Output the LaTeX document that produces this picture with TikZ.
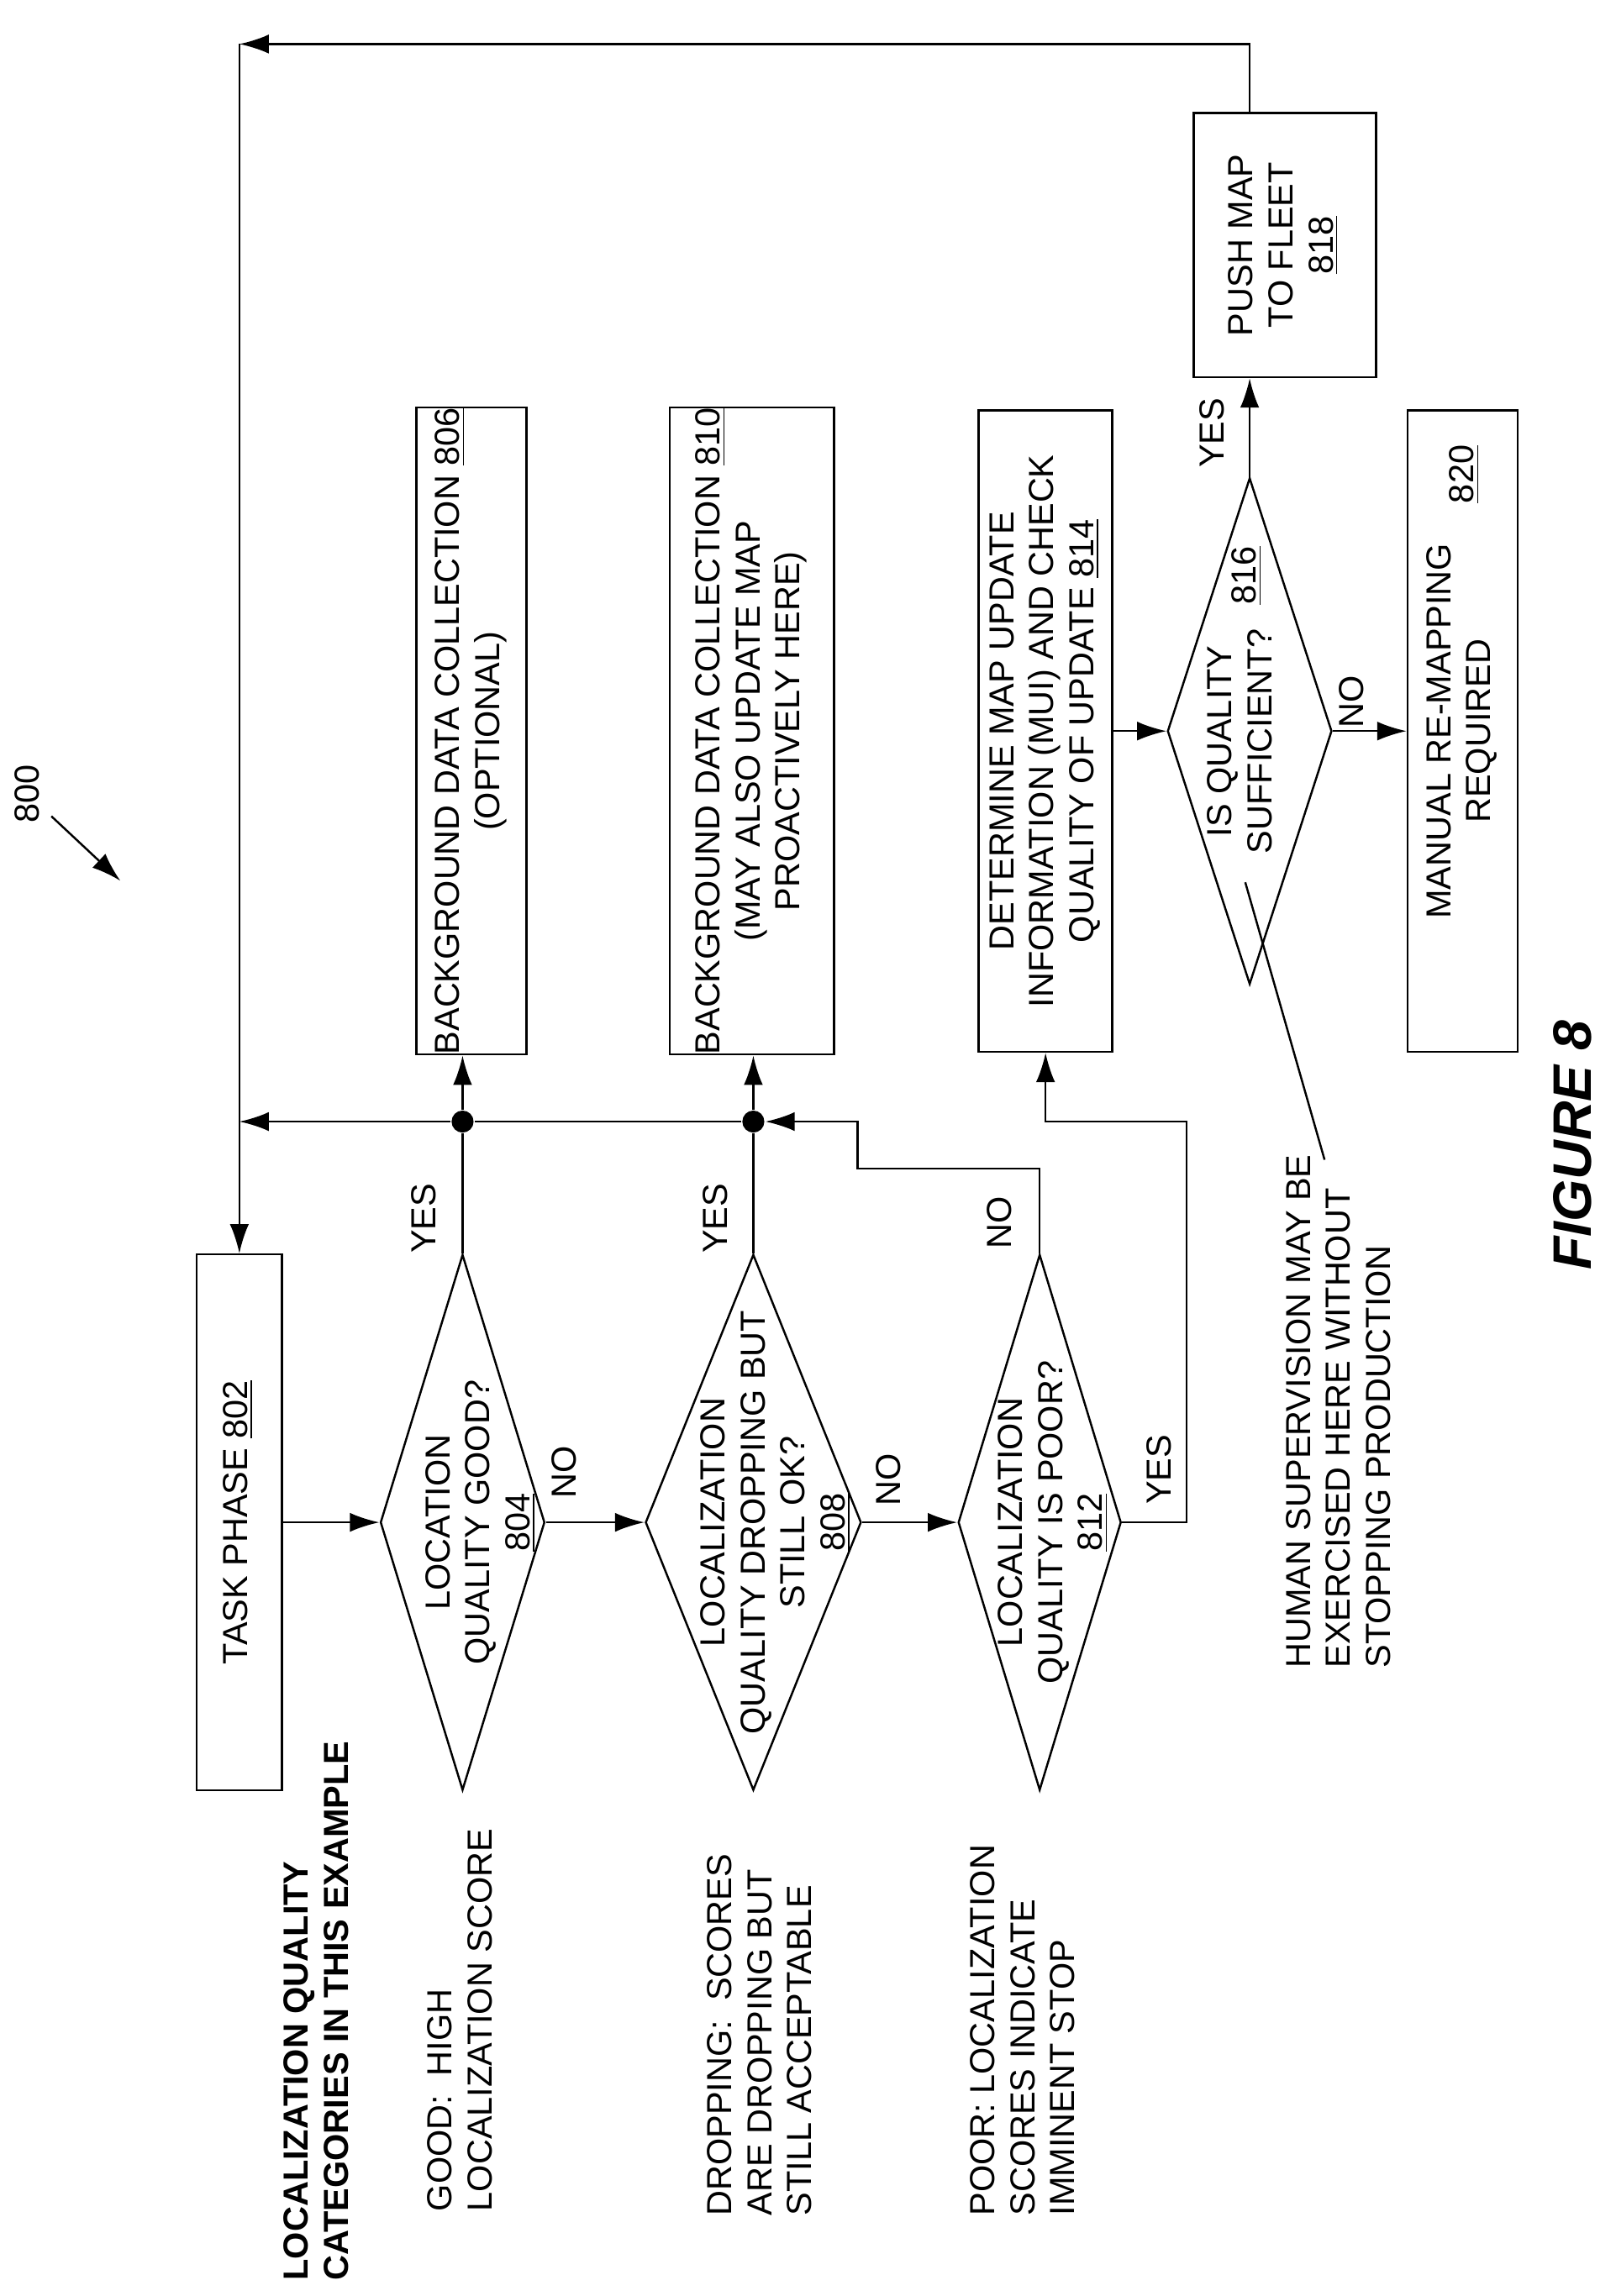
\documentclass[tikz,border=0pt]{standalone}
\usepackage{fontspec}
\setmainfont{Liberation Sans}
\usepackage{graphicx}
\usetikzlibrary{shapes.geometric, arrows.meta, positioning}

\newcommand{\rt}[2][c]{\rotatebox{90}{\begin{tabular}{@{}#1@{}}#2\end{tabular}}}

\begin{document}
\begin{tikzpicture}[x=0.02cm, y=-0.02cm, line width=0.8pt,
        font=\fontsize{13.5}{15.5}\selectfont]
        % Define block styles
        \tikzset{
            box/.style = {rectangle, draw, inner sep=0pt, align=center},
            decision/.style = {diamond, draw, inner sep=0pt},
            lbl/.style = {inner sep=0pt},
            dot/.style = {circle, fill, inner sep=0pt, minimum size=0.3cm},
            line/.style = {draw, -{Latex[length=4mm, width=2.6mm]}}
        }
        \useasboundingbox (0,0) rectangle (1100,1564);

        % Define nodes
        \node [box, minimum width=1.16cm, minimum height=7.3cm] (task) at (163,1037) {\rt{TASK PHASE \underline{802}}};
        \node [decision, minimum width=2.24cm, minimum height=7.3cm] (d804) at (315,1037) {};
        \node [decision, minimum width=2.94cm, minimum height=7.3cm] (d808) at (513,1037) {};
        \node [decision, minimum width=2.22cm, minimum height=7.3cm] (d812) at (708,1037) {};
        \node [lbl] (t804) at (328,1037) {\rt{LOCATION\\QUALITY GOOD?\\\underline{804}}};
        \node [lbl] (t808) at (529,1037) {\rt{LOCALIZATION\\QUALITY DROPPING BUT\\STILL OK?\\\underline{808}}};
        \node [lbl] (t812) at (718,1037) {\rt{LOCALIZATION\\QUALITY IS POOR?\\\underline{812}}};

        \node [box, minimum width=1.5cm, minimum height=8.74cm] (b806) at (321,498) {\rt{BACKGROUND DATA COLLECTION \underline{806}\\(OPTIONAL)}};
        \node [box, minimum width=2.24cm, minimum height=8.74cm] (b810) at (512,498) {\rt{BACKGROUND DATA COLLECTION \underline{810}\\(MAY ALSO UPDATE MAP\\PROACTIVELY HERE)}};
        \node [box, minimum width=1.82cm, minimum height=8.74cm] (b814) at (712,498) {\rt{DETERMINE MAP UPDATE\\INFORMATION (MUI) AND CHECK\\QUALITY OF UPDATE \underline{814}}};
        \node [decision, minimum width=2.24cm, minimum height=6.9cm] (d816) at (851,498) {};
        \node [lbl] (t816) at (847,505) {\rt{IS QUALITY\\SUFFICIENT?}};
        \node [lbl] (n816) at (850,392) {\rt{\underline{816}}};
        \node [box, minimum width=2.48cm, minimum height=3.6cm] (b818) at (875,167) {\rt{PUSH MAP\\TO FLEET\\\underline{818}}};
        \node [box, minimum width=1.5cm, minimum height=8.74cm] (b820) at (996,498) {\rt{MANUAL RE-MAPPING\\REQUIRED}};
        \node [lbl] (n820) at (998,323) {\rt{\underline{820}}};

        \node [dot] (j1) at (315,764) {};
        \node [dot] (j2) at (513,764) {};
        \coordinate (back) at (163,764);
        \coordinate (top) at (163,30);

        % Labels
        \node [lbl] (yes804) at (291,830) {\rt{YES}};
        \node [lbl] (yes808) at (490,830) {\rt{YES}};
        \node [lbl] (no812) at (683,833) {\rt{NO}};
        \node [lbl] (no804) at (387,1003) {\rt{NO}};
        \node [lbl] (no808) at (608,1008) {\rt{NO}};
        \node [lbl] (yes812) at (792,1001) {\rt{YES}};
        \node [lbl] (yes816) at (828,295) {\rt{YES}};
        \node [lbl] (no816) at (923,478) {\rt{NO}};

        \node [lbl, anchor=south] (cat) at (218,1554) {\rt[l]{\bfseries LOCALIZATION QUALITY\\\bfseries CATEGORIES IN THIS EXAMPLE}};
        \node [lbl, anchor=south] (good) at (316,1507) {\rt[l]{GOOD:\ \ HIGH\\LOCALIZATION SCORE}};
        \node [lbl, anchor=south] (drop) at (520,1510) {\rt[l]{DROPPING:\ \ SCORES\\ARE DROPPING BUT\\STILL ACCEPTABLE}};
        \node [lbl, anchor=south] (poor) at (699,1510) {\rt[l]{POOR: LOCALIZATION\\SCORES INDICATE\\IMMINENT STOP}};
        \node [lbl, anchor=south] (human) at (914,1137) {\rt[l]{HUMAN SUPERVISION MAY BE\\EXERCISED HERE WITHOUT\\STOPPING PRODUCTION}};
        \coordinate (hs1) at (848,601);
        \coordinate (hs2) at (902,790);

        \node [lbl] (fig) at (1075,780) {\rt{\fontsize{21}{23}\selectfont\bfseries\itshape FIGURE 8}};
        \node [lbl] (n800) at (21,541) {\rt{800}};
        \coordinate (a800) at (35,556);
        \coordinate (b800) at (82,600);

        % Connect nodes with paths
        \path [line] (task.east) -- (d804.west);
        \path [line] (d804.east) -- (d808.west);
        \path [line] (d808.east) -- (d812.west);
        \draw (d804.north) -- (j1);
        \draw (d808.north) -- (j2);
        \path [line] (j1) -- (j1 |- b806.south);
        \path [line] (j2) -- (j2 |- b810.south);
        \path [line] (j2) -- (j1) -- (back);
        \path [line] (d812.north) |- (584,796) |- (j2);
        \path [line] (d812.east) -| (808,764) -| (b814.south);
        \path [line] (b814.east) -- (d816.west);
        \path [line] (d816.north) -- (d816.north |- b818.south);
        \path [line] (d816.east) -- (b820.west);
        \path [line] (d816.north |- b818.north) |- (top);
        \path [line] (top) -- (task.north);
        \draw (hs1) -- (hs2);
        \path [line] (a800) -- (b800);
    \end{tikzpicture}
\end{document}
